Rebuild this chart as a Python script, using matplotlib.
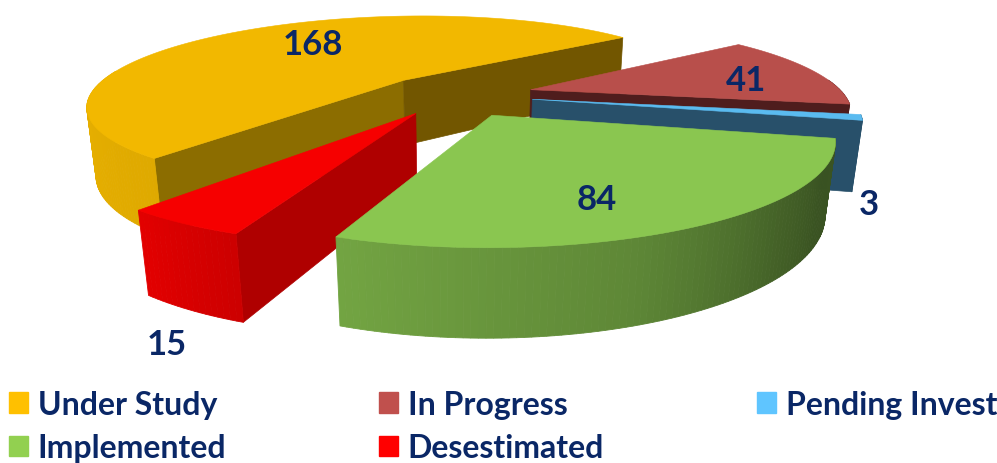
import numpy as np
import matplotlib
matplotlib.use('Agg')
import matplotlib.pyplot as plt
from matplotlib.colors import to_rgb
from matplotlib.patches import Patch

categories = ['Under Study', 'In Progress', 'Pending Invest', 'Implemented', 'Desestimated']
values = [168, 41, 3, 84, 15]

top_colors = ['#F2B800', '#B84F4B', '#5ABBF0', '#8AC650', '#F60000']
legend_colors = ['#FFC000', '#C0504D', '#5FC5FF', '#92D050', '#FF0000']
# flat side walls: (wall at first edge, wall at last edge)
wall_colors = [('#8C6D00', '#725600'), (None, '#4F1D1D'), (None, '#28506A'),
               (None, None), ('#AF0000', None)]
navy = '#0A2766'

# where each number sits: angle shift from the slice middle, radius, height
label_spots = [(9, 0.64, 0), (5, 0.73, 0), (7, 1.05, -1), (8, 0.75, 0), (-3.5, 1.16, -1)]

draw_order = [0, 1, 2, 4, 3]

start_angle = 127.5
explode = [0.25, 0.25, 0.25, 0.25, 0.23]
cx, cy = 455, 96
rx, ry = 314, 87
height = 69
p, q = 0.25, 0.025
skew = 12  # camera sits a bit off to the side


def project(x, y, z=0.0):
  # z=0 is the top of the pie, z=-1 the bottom
  x, y, z = np.asarray(x), np.asarray(y), np.asarray(z)
  w = 1.0 / (1.0 - p * y - q * z)
  return cx + (rx * x - skew * y) * w, cy + ry * y * w - height * z * w


def wall_shade(angle):
  return np.interp(angle % 360, [15, 30, 45, 70, 110, 127, 180, 360],
                   [0.42, 0.42, 0.50, 0.68, 0.83, 0.92, 0.97, 0.97])


def draw_side(ax, ox, oy, angle, color):
  ex, ey = ox + np.cos(np.radians(angle)), oy + np.sin(np.radians(angle))
  x0, y0 = project(ox, oy, 0)
  x1, y1 = project(ex, ey, 0)
  x2, y2 = project(ex, ey, -1)
  x3, y3 = project(ox, oy, -1)
  ax.fill([x0, x1, x2, x3], [y0, y1, y2, y3], color=color, lw=0.5)


fig = plt.figure(figsize=(9.97, 4.64), dpi=100)
ax = fig.add_axes([0, 0, 1, 1])
ax.set_xlim(0, 997)
ax.set_ylim(464, 0)
ax.axis('off')

spans = np.cumsum([0] + values) / sum(values) * 360 + start_angle

for i in draw_order:
  a, b = spans[i], spans[i + 1]
  mid = np.radians((a + b) / 2)
  ox, oy = explode[i] * np.cos(mid), explode[i] * np.sin(mid)

  # side walls
  wall_a, wall_b = wall_colors[i]
  if wall_a:
    draw_side(ax, ox, oy, a, wall_a)
  if wall_b:
    draw_side(ax, ox, oy, b, wall_b)

  # outer curved wall, one strip per degree so the shading runs along it
  # back strips go first, the nearer ones paint over them
  edges = np.linspace(a, b, max(int(b - a), 2) + 1)
  strips = sorted(zip(edges[:-1], edges[1:]), key=lambda e: np.sin(np.radians((e[0] + e[1]) / 2)))
  base = np.array(to_rgb(top_colors[i]))
  for t0, t1 in strips:
    if np.sin(np.radians((t0 + t1) / 2)) < -0.12:
      continue
    ts = np.radians([t0, t1])
    xs, ys = ox + np.cos(ts), oy + np.sin(ts)
    tx, ty = project(xs, ys, 0)
    bx, by = project(xs, ys, -1)
    strip = wall_colors[i][1] if i in (1, 2) else base * wall_shade((t0 + t1) / 2)
    ax.fill([tx[0], tx[1], bx[1], bx[0]], [ty[0], ty[1], by[1], by[0]], color=strip, lw=0.6)

  # top face
  ts = np.radians(np.linspace(a, b, 120))
  xs = np.r_[ox, ox + np.cos(ts)]
  ys = np.r_[oy, oy + np.sin(ts)]
  tx, ty = project(xs, ys, 0)
  ax.fill(tx, ty, color=top_colors[i], lw=0.4)

for i in range(len(values)):
  a, b = spans[i], spans[i + 1]
  mid = np.radians((a + b) / 2)
  ox, oy = explode[i] * np.cos(mid), explode[i] * np.sin(mid)
  shift, radius, z = label_spots[i]
  ang = mid + np.radians(shift)
  lx, ly = project(ox + radius * np.cos(ang), oy + radius * np.sin(ang), z)
  ax.text(lx, ly, str(values[i]), ha='center', va='center', color=navy,
          fontsize=25, fontweight='bold', family='Lato')

# legend fills column by column, the reference reads row by row
legend_order = [0, 3, 1, 4, 2]
handles = [Patch(color=legend_colors[i], label=categories[i]) for i in legend_order]
ax.legend(handles=handles, ncol=3, frameon=False, loc='lower left',
          bbox_to_anchor=(0.009, 0.002), borderaxespad=0, borderpad=0,
          prop={'family': 'Lato', 'weight': 'bold', 'size': 23},
          labelcolor=navy, handlelength=0.6, handleheight=0.6,
          handletextpad=0.3, columnspacing=4.78, labelspacing=0.45)

fig.savefig('out.png', dpi=100)
